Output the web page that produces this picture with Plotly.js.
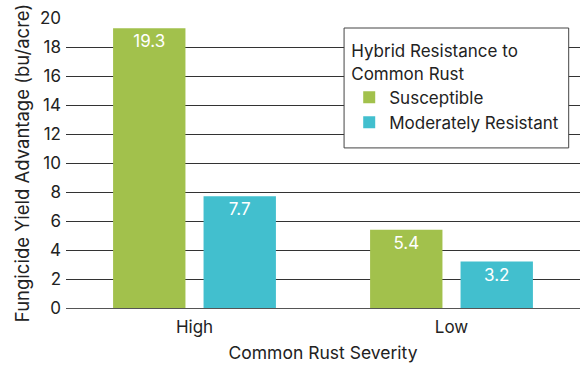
<!DOCTYPE html>
<html><head><meta charset="utf-8">
<script src="https://cdn.plot.ly/plotly-3.0.1.min.js"></script>
<style>html,body{margin:0;padding:0;background:#fff}#c{width:585px;height:367px}</style>
</head><body><div id="c"></div>
<script>
const categories = ["High", "Low"];
const susceptible = [19.3, 5.4];
const moderatelyResistant = [7.7, 3.2];
const seriesNames = ["Susceptible", "Moderately Resistant"];
const yTicks = [0, 2, 4, 6, 8, 10, 12, 14, 16, 18, 20];

const font = "Inter, 'Open Sans', sans-serif";
const mk = (y, name, color) => ({
  type: "bar", x: categories, y: y, name: name,
  marker: {color: color},
  text: y.map(v => v.toFixed(1)), textposition: "inside", insidetextanchor: "end",
  textfont: {color: "#fff", size: 17, family: font},
  hoverinfo: "none"
});
const data = [
  mk(susceptible, seriesNames[0], "#A2C14C"),
  mk(moderatelyResistant, seriesNames[1], "#42BFCE")
];
const layout = {
  width: 585, height: 367,
  margin: {l: 66, r: 5, t: 18, b: 59},
  paper_bgcolor: "#fff", plot_bgcolor: "#fff",
  font: {family: font, color: "#222", size: 17},
  barmode: "group", bargap: 0.296, bargroupgap: 0.2,
  showlegend: true,
  legend: {
    x: 0.551, y: 0.94, xanchor: "left", yanchor: "top",
    borderwidth: 0, bgcolor: "rgba(0,0,0,0)",
    title: {text: "Hybrid Resistance to<br>Common Rust", font: {size: 17}},
    font: {size: 17}, itemwidth: 30, tracegroupgap: 0
  },
  shapes: [{
    type: "rect", xref: "paper", yref: "paper",
    x0: 0.541, x1: 0.978, y0: 0.552, y1: 0.9655,
    line: {color: "#444", width: 1}, fillcolor: "#fff", layer: "above"
  }],
  xaxis: {
    range: [-0.5, 1.5], showgrid: false, ticks: "", showline: true, linecolor: "#555",
    tickfont: {size: 17}, ticklabelstandoff: 4,
    title: {text: "Common Rust Severity", font: {size: 17.5}, standoff: 10}
  },
  yaxis: {
    range: [0, 20], tickvals: yTicks, ticktext: yTicks.map(String),
    showgrid: true, gridcolor: "#333", gridwidth: 1, zeroline: true, zerolinecolor: "#555",
    tickfont: {size: 17}, ticks: "", ticklabelstandoff: 4,
    title: {text: "Fungicide Yield Advantage (bu/acre)", font: {size: 18.5}, standoff: 5}
  }
};
Plotly.newPlot("c", data, layout, {displayModeBar: false, staticPlot: true});
</script></body></html>
